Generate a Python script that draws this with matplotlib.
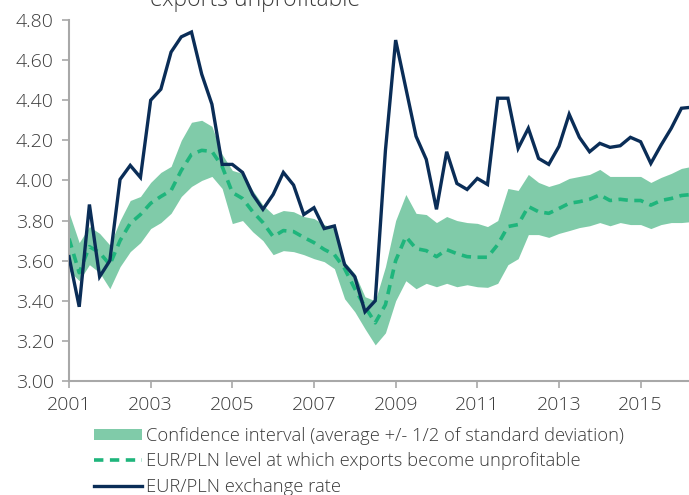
import numpy as np
import matplotlib
matplotlib.use("Agg")
import matplotlib.pyplot as plt
from matplotlib.patches import Patch
from matplotlib.lines import Line2D

plt.rcParams['font.family'] = ['Open Sans', 'DejaVu Sans']
plt.rcParams['font.weight'] = 300

start_year = 2001
n_quarters = 62
quarters = start_year + np.arange(n_quarters) / 4.0

eurpln = [3.62, 3.37, 3.88, 3.52, 3.60, 4.005, 4.075, 4.015, 4.40, 4.455,
          4.64, 4.716, 4.74, 4.53, 4.38, 4.08, 4.08, 4.04, 3.93, 3.856,
          3.93, 4.04, 3.977, 3.83, 3.864, 3.76, 3.773, 3.58, 3.52, 3.345,
          3.40, 4.15, 4.70, 4.46, 4.22, 4.105, 3.856, 4.143, 3.985, 3.955,
          4.01, 3.98, 4.41, 4.41, 4.16, 4.26, 4.11, 4.08, 4.17, 4.33,
          4.215, 4.143, 4.185, 4.165, 4.173, 4.215, 4.193, 4.085, 4.176, 4.26,
          4.36, 4.365]

level = [3.71, 3.54, 3.67, 3.64, 3.58, 3.70, 3.786, 3.83, 3.886, 3.92,
         3.95, 4.05, 4.13, 4.15, 4.145, 4.07, 3.94, 3.91, 3.844, 3.79,
         3.72, 3.75, 3.745, 3.716, 3.69, 3.656, 3.63, 3.56, 3.46, 3.37,
         3.29, 3.38, 3.60, 3.72, 3.66, 3.65, 3.62, 3.655, 3.635, 3.62,
         3.617, 3.617, 3.68, 3.77, 3.78, 3.87, 3.844, 3.836, 3.86, 3.886,
         3.894, 3.906, 3.928, 3.90, 3.906, 3.90, 3.90, 3.877, 3.90, 3.91,
         3.925, 3.93]

upper = [3.84, 3.69, 3.77, 3.736, 3.678, 3.80, 3.90, 3.92, 3.99, 4.04,
         4.07, 4.20, 4.29, 4.30, 4.27, 4.13, 4.05, 4.035, 3.95, 3.877,
         3.83, 3.85, 3.844, 3.82, 3.81, 3.78, 3.76, 3.595, 3.535, 3.42,
         3.40, 3.57, 3.80, 3.93, 3.836, 3.83, 3.79, 3.82, 3.80, 3.79,
         3.786, 3.77, 3.80, 3.96, 3.95, 4.03, 3.99, 3.97, 3.985, 4.01,
         4.02, 4.03, 4.055, 4.02, 4.02, 4.02, 4.02, 3.99, 4.015, 4.035,
         4.06, 4.07]

lower = [3.55, 3.50, 3.58, 3.54, 3.46, 3.57, 3.645, 3.69, 3.76, 3.79,
         3.836, 3.92, 3.97, 4.00, 4.02, 3.96, 3.785, 3.80, 3.744, 3.70,
         3.63, 3.65, 3.645, 3.63, 3.61, 3.595, 3.56, 3.41, 3.345, 3.26,
         3.18, 3.24, 3.40, 3.50, 3.46, 3.487, 3.47, 3.487, 3.47, 3.48,
         3.47, 3.467, 3.487, 3.58, 3.61, 3.73, 3.73, 3.716, 3.736, 3.75,
         3.765, 3.774, 3.79, 3.774, 3.79, 3.78, 3.78, 3.76, 3.78, 3.79,
         3.79, 3.795]

x_ticks = [2001, 2003, 2005, 2007, 2009, 2011, 2013, 2015]
y_ticks = [3.00, 3.20, 3.40, 3.60, 3.80, 4.00, 4.20, 4.40, 4.60, 4.80]

labels = ["Confidence interval (average +/- 1/2 of standard deviation)",
          "EUR/PLN level at which exports become unprofitable",
          "EUR/PLN exchange rate"]
title_tail = "exports unprofitable"

band_color = "#80cba9"
dash_color = "#1fb57c"
navy = "#0a2d57"
text_color = "#3a3a3a"
spine_color = "#a8a8a8"

W, H = 689, 495
fig = plt.figure(figsize=(W / 100, H / 100), dpi=100)
ax = fig.add_axes([69 / W, 1 - 381 / H, (W - 69) / W, (381 - 20) / H])

ax.fill_between(quarters, lower, upper, color=band_color, linewidth=0, zorder=1)
ax.plot(quarters, level, color=dash_color, linewidth=2.6, dashes=(2.6, 1.8),
        zorder=2, solid_capstyle='butt')
ax.plot(quarters, eurpln, color=navy, linewidth=2.4, zorder=3,
        solid_joinstyle='miter')

ax.set_xlim(2001, 2001 + (W - 69) / 40.83)
ax.set_ylim(3.0, 4.8)
ax.set_xticks(x_ticks)
ax.set_xticklabels([str(t) for t in x_ticks])
ax.set_yticks(y_ticks)
ax.set_yticklabels([f"{t:.2f}" for t in y_ticks])

for s in ["top", "right"]:
    ax.spines[s].set_visible(False)
for s in ["left", "bottom"]:
    ax.spines[s].set_color(spine_color)
    ax.spines[s].set_linewidth(1.5)

ax.tick_params(axis='y', length=5, width=1.2, color=spine_color, pad=6,
               labelsize=14, labelcolor=text_color)
ax.tick_params(axis='x', length=5, width=1.2, color=spine_color, pad=6,
               labelsize=14, labelcolor=text_color)

fig.text(150 / W, 1 - 6 / H, title_tail, fontsize=16.5, color=text_color,
         ha='left', va='baseline')

handles = [Patch(facecolor=band_color, edgecolor='none'),
           Line2D([], [], color=dash_color, linewidth=2.6, dashes=(2.6, 1.8)),
           Line2D([], [], color=navy, linewidth=2.4)]
fig.legend(handles, labels, loc='upper left',
           bbox_to_anchor=(94 / W, 1 - 427 / H), frameon=False,
           fontsize=13.2, labelcolor=text_color, handlelength=2.6,
           handleheight=0.6, handletextpad=0.25, labelspacing=0.40,
           borderaxespad=0, borderpad=0)

fig.savefig("out.png", dpi=100)
